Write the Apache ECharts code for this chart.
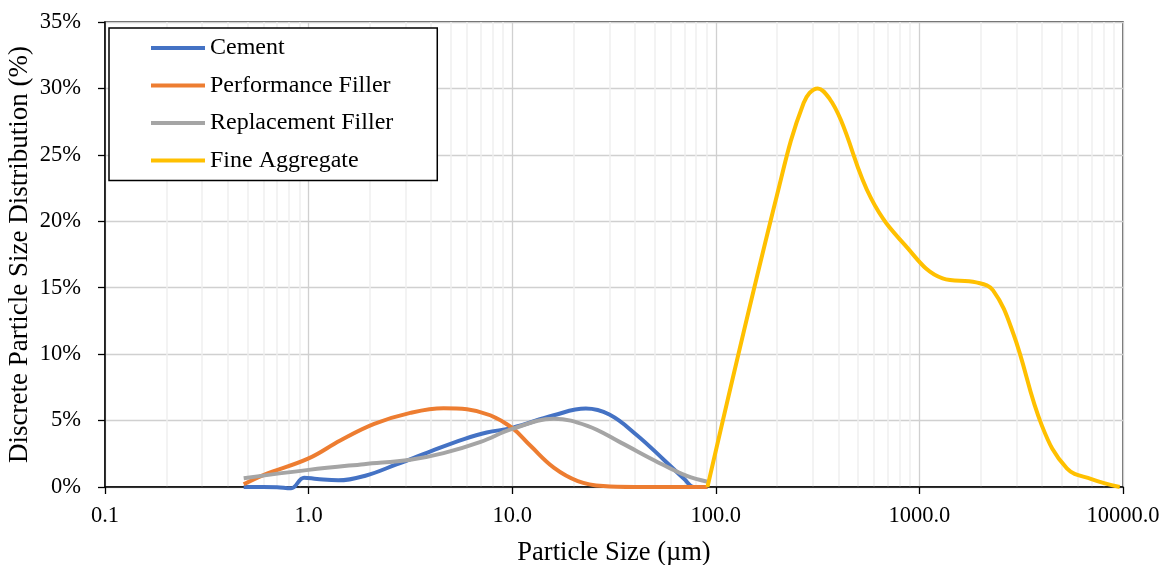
<!DOCTYPE html>
<html>
<head>
<meta charset="utf-8">
<script src="https://cdn.jsdelivr.net/npm/echarts@6/dist/echarts.min.js"></script>
<style>
html,body{margin:0;padding:0;background:#fff;}
#chart{width:1167px;height:565px;}
</style>
</head>
<body>
<div id="chart"></div>
<script>
// Particle size (µm) and discrete distribution (%)
const cement = [[0.48,0],[0.6,0],[0.7,-0.02],[0.82,-0.1],[0.95,0.7],[1.1,0.6],[1.4,0.5],[1.9,0.85],[2.7,1.7],[4.0,2.7],[5.8,3.6],[7.5,4.1],[10,4.45],[16,5.4],[23,5.9],[30,5.45],[41,3.9],[56,2.0],[70,0.6],[78,0],[91,0]];
const performanceFiller = [[0.48,0.2],[0.6,0.9],[1.0,2.15],[1.43,3.5],[2.1,4.75],[3.16,5.58],[4.6,5.93],[6.0,5.85],[7.8,5.4],[10,4.45],[12.3,3.1],[16,1.46],[21,0.45],[28,0.07],[40,0],[60,0],[91,0]];
const replacementFiller = [[0.48,0.66],[1.0,1.29],[1.87,1.72],[3.16,2.05],[4.6,2.55],[7.0,3.4],[10,4.37],[16,5.13],[23.4,4.6],[34,3.36],[50,2.0],[72,0.83],[91,0.4]];
const fineAggregate = [[91,0],[200,22],[270,28.9],[317,30],[363,29.2],[412,27.6],[580,21.7],[850,18.2],[1300,15.7],[1900,15.4],[2300,14.8],[2900,11.5],[4000,4.6],[5300,1.4],[7000,0.6],[9640,0]];

const seriesNames = ['Cement','Performance Filler','Replacement Filler','Fine Aggregate'];
const seriesColors = ['#4472C4','#ED7D31','#A5A5A5','#FFC000'];
const seriesData = [cement, performanceFiller, replacementFiller, fineAggregate];

// minor log gridline positions (2..9 within each decade)
const decades = [0.1, 1, 10, 100, 1000];
const minorMultipliers = [2,3,4,5,6,7,8,9];
const minorTicks = [];
decades.forEach(d => minorMultipliers.forEach(m => minorTicks.push(+(d*m).toPrecision(3))));

const FONT = "'Liberation Serif','Times New Roman',serif";

const chart = echarts.init(document.getElementById('chart'), null, {renderer:'canvas'});

const series = seriesData.map((d,i) => ({
  name: seriesNames[i],
  type: 'line',
  data: d,
  smooth: 0.4,
  symbol: 'none',
  clip: false,
  z: 3,
  lineStyle: {color: seriesColors[i], width: 4},
  itemStyle: {color: seriesColors[i]}
}));

series.unshift({
  name: 'minorGrid',
  type: 'line',
  data: [[1,0]],
  symbol: 'none',
  lineStyle: {opacity: 0},
  silent: true,
  z: 1,
  markLine: {
    silent: true,
    symbol: 'none',
    z: 0,
    label: {show: false},
    lineStyle: {color: '#efefef', width: 1.5, type: 'solid'},
    data: minorTicks.map(v => ({xAxis: v}))
  }
});

chart.setOption({
  animation: false,
  backgroundColor: '#fff',
  grid: {left: 105, right: 44, top: 22, bottom: 78, containLabel: false, outerBoundsMode: 'none', show: true, borderColor: '#222', borderWidth: 1.3, backgroundColor: 'transparent'},
  legend: {
    data: seriesNames.map((n,i) => ({name: n, icon: 'rect', itemStyle: {color: seriesColors[i]}})),
    orient: 'vertical',
    left: 109,
    top: 28,
    padding: [8, 44, 8, 42],
    itemWidth: 54,
    itemHeight: 4,
    itemGap: 13.5,
    borderColor: '#000',
    borderWidth: 1.5,
    backgroundColor: '#fff',
    textStyle: {fontFamily: FONT, fontSize: 24, color: '#000', lineHeight: 24}
  },
  xAxis: {
    type: 'log',
    logBase: 10,
    min: 0.1,
    max: 10000,
    name: 'Particle Size (µm)',
    nameLocation: 'middle',
    nameGap: 53,
    nameMoveOverlap: false,
    nameTextStyle: {fontFamily: FONT, fontSize: 26.5, color: '#000'},
    axisLine: {lineStyle: {color: '#000', width: 1.5}},
    axisTick: {show: true, inside: false, length: 7, lineStyle: {color: '#000', width: 1.3}},
    axisLabel: {fontFamily: FONT, fontSize: 22.5, color: '#000', margin: 18, formatter: v => v.toFixed(1)},
    splitLine: {show: true, lineStyle: {color: '#d0d0d0', width: 1.3}},
    minorTick: {show: false},
    minorSplitLine: {show: false}
  },
  yAxis: {
    type: 'value',
    min: 0,
    max: 35,
    interval: 5,
    name: 'Discrete Particle Size Distribution (%)',
    nameLocation: 'middle',
    nameGap: 72,
    nameMoveOverlap: false,
    nameTextStyle: {fontFamily: FONT, fontSize: 27, color: '#000'},
    axisLine: {show: true, lineStyle: {color: '#000', width: 1.5}},
    axisTick: {show: true, inside: false, length: 7, lineStyle: {color: '#000', width: 1.3}},
    axisLabel: {fontFamily: FONT, fontSize: 22.5, color: '#000', margin: 24, formatter: '{value}%'},
    splitLine: {show: true, lineStyle: {color: '#d0d0d0', width: 1.3}}
  },
  series: series
});
</script>
</body>
</html>
